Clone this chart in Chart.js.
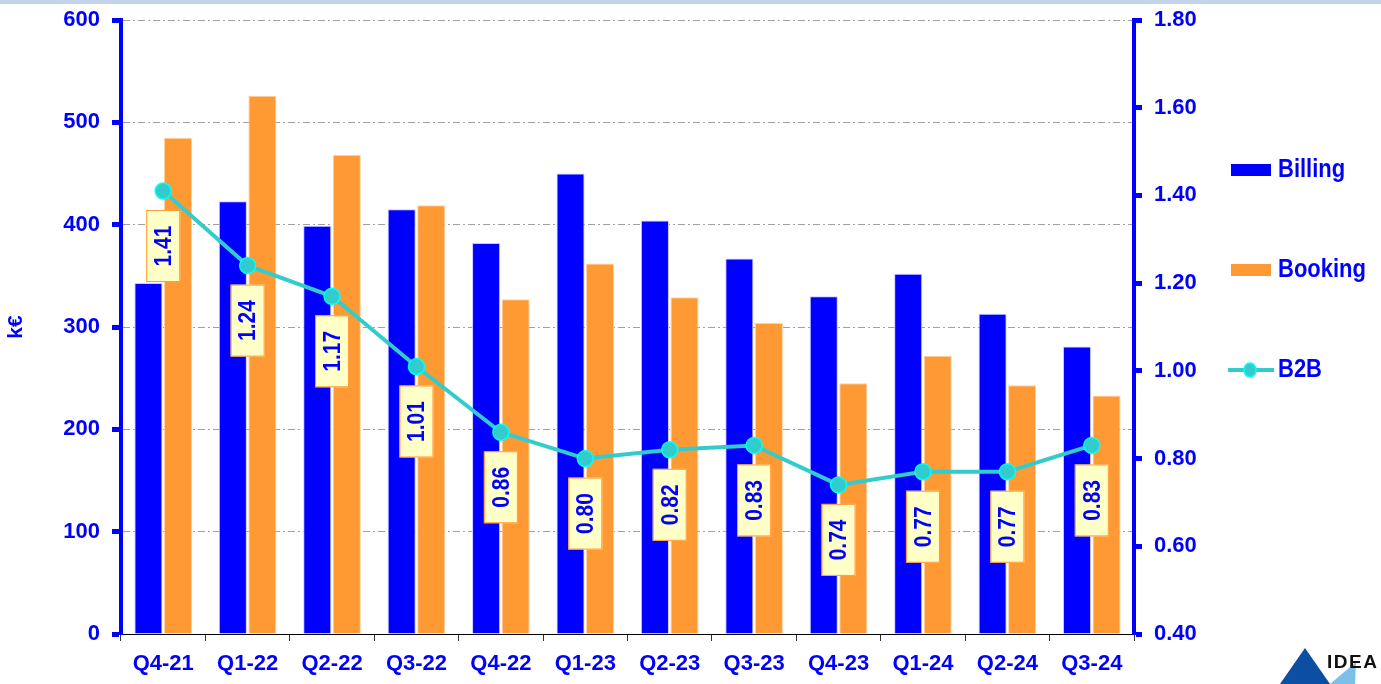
<!DOCTYPE html>
<html>
<head>
<meta charset="utf-8">
<script src="https://cdn.jsdelivr.net/npm/chart.js@4.4.1/dist/chart.umd.min.js"></script>
<style>
  body { margin: 0; background: #fff; font-family: "Liberation Sans", Arial, sans-serif; }
  #wrap { position: relative; width: 1381px; height: 684px; }
  #band { position: absolute; left: 0; top: 0; width: 1381px; height: 4px; background: #c3d3ea; }
  #logo { position: absolute; left: 1250px; top: 640px; }
</style>
</head>
<body>
<div id="wrap">
  <canvas id="chart" width="1381" height="684"></canvas>
  <div id="band"></div>
  <svg id="logo" width="131" height="44">
    <polygon points="55,8 80,44 30,44" fill="#0b4ea2"/>
    <polygon points="105,44 80,44 106,22" fill="#7cc0ea"/>
    <text x="77" y="28" font-family="Liberation Sans, Arial" font-weight="bold" font-size="19" fill="#111" textLength="50">IDEA</text>
  </svg>
</div>
<script>
const quarters = ["Q4-21", "Q1-22", "Q2-22", "Q3-22", "Q4-22", "Q1-23", "Q2-23", "Q3-23", "Q4-23", "Q1-24", "Q2-24", "Q3-24"];
const billing = [343, 423, 399, 415, 382, 450, 404, 367, 330, 352, 313, 281];
const booking = [485, 526, 468, 419, 327, 362, 329, 304, 245, 272, 243, 233];
const b2b = [1.41, 1.24, 1.17, 1.01, 0.86, 0.80, 0.82, 0.83, 0.74, 0.77, 0.77, 0.83];
const leftTicks = [0, 100, 200, 300, 400, 500, 600];
const rightTicks = [0.4, 0.6, 0.8, 1.0, 1.2, 1.4, 1.6, 1.8];

const BLUE = "#0000ff";
const FONT = "'Liberation Sans', Arial, sans-serif";

// yellow value boxes under each B2B point
const boxLabels = {
  id: "boxLabels",
  afterDatasetsDraw(chart) {
    const ctx = chart.ctx;
    const meta = chart.getDatasetMeta(2);
    meta.data.forEach((pt, i) => {
      const x = pt.x, top = pt.y + 19;
      ctx.save();
      ctx.fillStyle = "#ffffc8";
      ctx.strokeStyle = "#ff9933";
      ctx.lineWidth = 1;
      ctx.fillRect(x - 17, top, 34, 72);
      ctx.strokeRect(x - 17 + 0.5, top + 0.5, 33, 71);
      ctx.translate(x, top + 36);
      ctx.rotate(-Math.PI / 2);
      ctx.scale(1, 1.15);
      ctx.fillStyle = BLUE;
      ctx.font = "bold 21px " + FONT;
      ctx.textAlign = "center";
      ctx.textBaseline = "middle";
      ctx.fillText(b2b[i].toFixed(2), 0, 1);
      ctx.restore();
    });
  }
};

// legend on the right, spaced like the original
const sideLegend = {
  id: "sideLegend",
  afterDraw(chart) {
    const ctx = chart.ctx;
    const ys = [170, 270, 370];
    chart.data.datasets.forEach((ds, i) => {
      const y = ys[i];
      ctx.save();
      if (ds.type === "line") {
        ctx.strokeStyle = ds.borderColor;
        ctx.lineWidth = 4;
        ctx.beginPath();
        ctx.moveTo(1228, y);
        ctx.lineTo(1274, y);
        ctx.stroke();
        ctx.beginPath();
        ctx.ellipse(1250, y, 6, 7, 0, 0, Math.PI * 2);
        ctx.fillStyle = ds.pointBackgroundColor;
        ctx.fill();
        ctx.strokeStyle = ds.pointBorderColor;
        ctx.lineWidth = 1.5;
        ctx.stroke();
      } else {
        ctx.fillStyle = ds.backgroundColor;
        ctx.fillRect(1231, y - 6, 40, 12);
      }
      ctx.fillStyle = BLUE;
      ctx.font = "bold 22px " + FONT;
      ctx.textBaseline = "middle";
      ctx.translate(1278, y);
      ctx.scale(1, 1.15);
      ctx.fillText(ds.label, 0, 0);
      ctx.restore();
    });
  }
};

new Chart(document.getElementById("chart"), {
  data: {
    labels: quarters,
    datasets: [
      {
        type: "bar", label: "Billing", data: billing, yAxisID: "y",
        backgroundColor: BLUE, borderColor: "#c8c8ff", borderWidth: 1,
        categoryPercentage: 0.7, barPercentage: 0.95, order: 2
      },
      {
        type: "bar", label: "Booking", data: booking, yAxisID: "y",
        backgroundColor: "#ff9933", borderColor: "#ffd2a0", borderWidth: 1,
        categoryPercentage: 0.7, barPercentage: 0.95, order: 2
      },
      {
        type: "line", label: "B2B", data: b2b, yAxisID: "y2",
        borderColor: "#33cccc", borderWidth: 4,
        pointRadius: 8, pointBackgroundColor: "#33cccc", pointBorderColor: "#00ffff",
        pointBorderWidth: 1.5, tension: 0, order: 1
      }
    ]
  },
  options: {
    responsive: false,
    animation: false,
    layout: { padding: { top: 20, right: 0, left: 0, bottom: 0 } },
    plugins: { legend: { display: false }, tooltip: { enabled: false } },
    scales: {
      x: {
        afterFit(s) { s.height = 50; },
        border: { color: "#000", width: 1 },
        grid: { offset: true, drawOnChartArea: false, tickLength: 7, tickColor: "#333", tickWidth: 1 },
        ticks: { color: BLUE, font: { family: FONT, weight: "bold", size: 22 }, padding: 10 }
      },
      y: {
        position: "left", min: 0, max: 600,
        afterFit(s) { s.width = 121; s.paddingTop = 0; s.paddingBottom = 0; },
        afterBuildTicks(s) { s.ticks = leftTicks.map(v => ({ value: v })); },
        border: { color: BLUE, width: 4, dash: [7, 3, 2, 3] },
        grid: { color: "#a0a0a0", lineWidth: 1, tickColor: BLUE, tickWidth: 5, tickLength: 9, tickBorderDash: [] },
        ticks: { color: BLUE, font: { family: FONT, weight: "bold", size: 22 }, padding: 12 },
        title: { display: true, text: "k€", color: BLUE, font: { family: FONT, weight: "bold", size: 21 }, padding: 4 }
      },
      y2: {
        position: "right", min: 0.4, max: 1.8,
        afterFit(s) { s.width = 247; s.paddingTop = 0; s.paddingBottom = 0; },
        afterBuildTicks(s) { s.ticks = rightTicks.map(v => ({ value: v })); },
        border: { color: BLUE, width: 4 },
        grid: { drawOnChartArea: false, tickColor: BLUE, tickWidth: 5, tickLength: 8 },
        ticks: {
          color: BLUE, font: { family: FONT, weight: "bold", size: 22 }, padding: 12,
          callback: v => Number(v).toFixed(2)
        }
      }
    }
  },
  plugins: [boxLabels, sideLegend]
});
</script>
</body>
</html>
